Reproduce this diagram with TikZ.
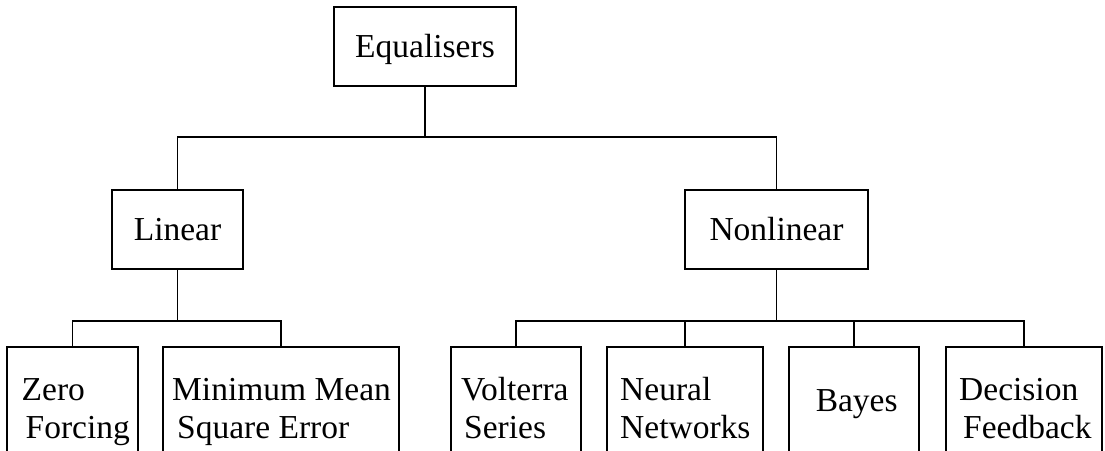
\documentclass[tikz,border=0pt]{standalone}
\usepackage{fontspec}
\setmainfont{Liberation Serif}
\begin{document}
\begin{tikzpicture}[x=1pt, y=-1pt, line width=1.4pt,
  box/.style={draw, rectangle, inner sep=0pt, line width=1.4pt,
    font=\fontsize{33.5}{38}\selectfont, text height=22pt, text depth=0pt},
  leaf/.style={draw, rectangle, inner sep=0pt, line width=1.4pt, minimum height=140pt},
  lbl/.style={inner sep=0pt, font=\fontsize{33.5}{38}\selectfont}]
  \useasboundingbox (0,0) rectangle (1105,450);
  \clip (0,0) rectangle (1105,450);

  % upper levels
  \node[box, minimum width=182pt, minimum height=79pt] (eq)  at (425,46.5)    {Equalisers};
  \node[box, minimum width=131pt, minimum height=79pt] (lin) at (177.5,229.5) {Linear};
  \node[box, minimum width=183pt, minimum height=79pt] (nl)  at (776.5,229.5) {Nonlinear};

  % leaf boxes (open at the bottom edge)
  \node[leaf, minimum width=131pt] (zf)    at (72.5,417) {};
  \node[leaf, minimum width=236pt] (mmse)  at (281,417)  {};
  \node[leaf, minimum width=130pt] (volt)  at (516,417)  {};
  \node[leaf, minimum width=156pt] (neur)  at (685,417)  {};
  \node[leaf, minimum width=130pt] (bayes) at (854,417)  {};
  \node[leaf, minimum width=156pt] (dfe)   at (1024,417) {};

  % leaf labels
  \node[lbl, anchor=base west] (tzf) at (21,400)
    {\begin{tabular}[t]{@{}l@{}}Zero\\\hspace*{4pt}Forcing\end{tabular}};
  \node[lbl, anchor=base west] (tmmse) at (171.5,400)
    {\begin{tabular}[t]{@{}l@{}}Minimum Mean\\\hspace*{5pt}Square Error\end{tabular}};
  \node[lbl, anchor=base west] (tvolt) at (460.5,400)
    {\begin{tabular}[t]{@{}l@{}}Volterra\\\hspace*{3pt}Series\end{tabular}};
  \node[lbl, anchor=base west] (tneur) at (619.5,400)
    {\begin{tabular}[t]{@{}l@{}}Neural\\Networks\end{tabular}};
  \node[lbl, anchor=base] (tbayes) at (856.7,411) {Bayes};
  \node[lbl, anchor=base west] (tdfe) at (958.5,400)
    {\begin{tabular}[t]{@{}l@{}}Decision\\\hspace*{4pt}Feedback\end{tabular}};

  % connectors
  \coordinate (b1) at (425,137);
  \coordinate (b2) at (177.5,321);
  \coordinate (b3) at (776.5,321);
  \draw (eq.south) -- (b1);
  \draw (lin.north) |- (b1) -| (nl.north);
  \draw (lin.south) -- (b2);
  \draw (zf.north) |- (b2) -| (mmse.north);
  \draw (nl.south) -- (b3);
  \draw (volt.north) |- (dfe.north |- b3) -- (dfe.north);
  \draw (neur.north) -- (neur.north |- b3);
  \draw (bayes.north) -- (bayes.north |- b3);
\end{tikzpicture}
\end{document}
